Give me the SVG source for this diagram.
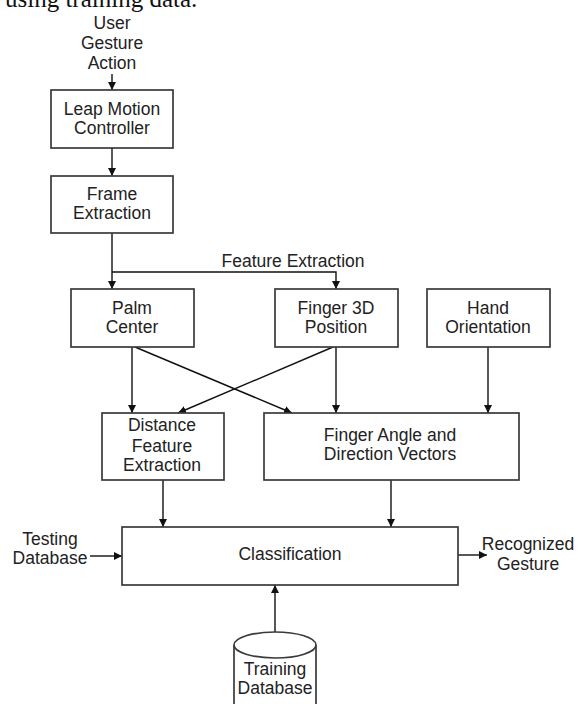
<svg xmlns="http://www.w3.org/2000/svg" width="578" height="704" viewBox="0 0 578 704">
<defs>
<marker id="ah" viewBox="0 0 10 10" refX="10" refY="5" markerWidth="8" markerHeight="8" markerUnits="userSpaceOnUse" orient="auto">
<path d="M0,0 L10,5 L0,10 z" fill="#111"/>
</marker>
<style>
.box{fill:#fff;stroke:#3a3a3a;stroke-width:1.7}
.t{font-family:"Liberation Sans",Arial,sans-serif;font-size:17.5px;fill:#222;text-anchor:middle}
.c{fill:none;stroke:#111;stroke-width:1.4}
.a{marker-end:url(#ah)}
</style>
</defs>
<rect width="578" height="704" fill="#fff"/>
<text x="5" y="7" font-family="'Liberation Serif','Times New Roman',serif" font-size="25" fill="#111">using training data.</text>

<g id="connectors">
<path class="c a" d="M112,74 V90"/>
<path class="c a" d="M112,148 V176"/>
<path class="c a" d="M112,233 V289"/>
<path class="c a" d="M112,272 H336 V289"/>
<path class="c a" d="M132,347 V413"/>
<path class="c a" d="M135,347 L292,413"/>
<path class="c a" d="M333,347 L178,413"/>
<path class="c a" d="M336,347 V413"/>
<path class="c a" d="M488,347 V413"/>
<path class="c a" d="M163,480 V527"/>
<path class="c a" d="M391,480 V527"/>
<path class="c a" d="M90,556 H122"/>
<path class="c a" d="M458,555 H487"/>
<path class="c a" d="M275,632 V585"/>
</g>

<g id="user-gesture">
<text class="t" x="112" y="29">User</text>
<text class="t" x="112" y="49">Gesture</text>
<text class="t" x="112" y="69">Action</text>
</g>
<g id="leap-motion">
<rect class="box" x="51" y="90" width="122" height="58"/>
<text class="t" x="112" y="115">Leap Motion</text>
<text class="t" x="112" y="134">Controller</text>
</g>
<g id="frame-extraction">
<rect class="box" x="51" y="176" width="122" height="57"/>
<text class="t" x="112" y="200">Frame</text>
<text class="t" x="112" y="219">Extraction</text>
</g>
<g id="feature-extraction-label">
<text class="t" x="293" y="267">Feature Extraction</text>
</g>
<g id="palm-center">
<rect class="box" x="71" y="289" width="123" height="58"/>
<text class="t" x="132" y="314">Palm</text>
<text class="t" x="132" y="333">Center</text>
</g>
<g id="finger-3d">
<rect class="box" x="275" y="289" width="123" height="58"/>
<text class="t" x="336" y="314">Finger 3D</text>
<text class="t" x="336" y="333">Position</text>
</g>
<g id="hand-orientation">
<rect class="box" x="427" y="289" width="123" height="58"/>
<text class="t" x="488" y="314">Hand</text>
<text class="t" x="488" y="333">Orientation</text>
</g>
<g id="distance-feature">
<rect class="box" x="102" y="413" width="122" height="67"/>
<text class="t" x="162" y="431">Distance</text>
<text class="t" x="162" y="452">Feature</text>
<text class="t" x="162" y="471">Extraction</text>
</g>
<g id="finger-angle">
<rect class="box" x="264" y="413" width="255" height="67"/>
<text class="t" x="390" y="441">Finger Angle and</text>
<text class="t" x="390" y="460">Direction Vectors</text>
</g>
<g id="classification">
<rect class="box" x="122" y="527" width="336" height="58"/>
<text class="t" x="290" y="560">Classification</text>
</g>
<g id="testing-database">
<text class="t" x="50" y="545">Testing</text>
<text class="t" x="50" y="564">Database</text>
</g>
<g id="recognized-gesture">
<text class="t" x="528" y="550">Recognized</text>
<text class="t" x="528" y="570">Gesture</text>
</g>
<g id="training-database">
<path class="box" d="M234,645 A41,13 0 0 1 316,645 V712 H234 Z"/>
<path fill="none" stroke="#3a3a3a" stroke-width="1.7" d="M234,645 A41,13 0 0 0 316,645"/>
<text class="t" x="275" y="675">Training</text>
<text class="t" x="275" y="694">Database</text>
</g>
</svg>
